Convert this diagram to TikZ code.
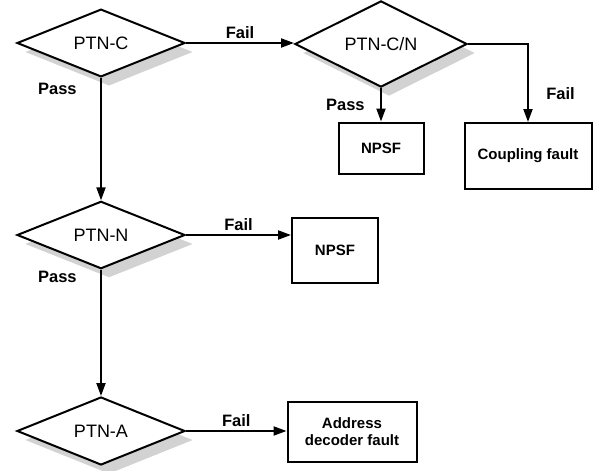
\documentclass[tikz,border=0pt]{standalone}
\usepackage{fontspec}
\setmainfont{Liberation Sans}
\usetikzlibrary{positioning,arrows.meta,calc,shapes.geometric,shadows}

\begin{document}
\begin{tikzpicture}[x=1pt, y=-1pt, >={Triangle[length=13pt,width=9pt]},
  every node/.style={align=center},
  ptn/.style={draw, diamond, line width=2pt, fill=white, inner sep=0pt,
    minimum width=168pt, minimum height=65pt, font=\fontsize{18}{20}\selectfont,
    drop shadow={shadow xshift=8pt, shadow yshift=-9pt, fill=gray!35, opacity=1}},
  fault/.style={draw, rectangle, line width=2pt, inner sep=2pt,
    font=\bfseries\fontsize{15}{17}\selectfont},
  flow/.style={->, line width=2pt},
  lbl/.style={font=\bfseries\fontsize{16.5}{18}\selectfont}]
  \useasboundingbox (0,0) rectangle (598,471);

  % tests
  \node[ptn] (c) at (101,43) {PTN-C};
  \node[ptn, minimum width=172pt, minimum height=66pt] (cn) at (381,44) {PTN-C/N};
  \node[ptn] (n) at (101,235) {PTN-N};
  \node[ptn, minimum height=68pt] (a) at (101,431) {PTN-A};

  % faults
  \node[fault, minimum width=85pt, minimum height=51pt] (npsf1) at (381,148) {NPSF};
  \node[fault, minimum width=127pt, minimum height=66pt] (coup) at (528,156) {Coupling fault};
  \node[fault, minimum width=86pt, minimum height=65pt] (npsf2) at (335,250) {NPSF};
  \node[fault, minimum width=129pt, minimum height=60pt] (adf) at (352,432) {Address\\decoder fault};

  \draw[flow] (c.east) -- node[lbl, above]{Fail} (c.east -| cn.west);
  \draw[flow] (c.south) -- node[lbl, pos=0.09, left=20pt]{Pass} (n.north);
  \draw[flow] (cn.south) -- node[lbl, pos=0.5, left=12pt]{Pass} (npsf1);
  \draw[flow] (cn.east) -| node[lbl, pos=0.82, right=14pt]{Fail} (coup);
  \draw[flow] (n.east) -- node[lbl, above]{Fail} (n.east -| npsf2.west);
  \draw[flow] (n.south) -- node[lbl, pos=0.06, left=20pt]{Pass} (a.north);
  \draw[flow] (a.east) -- node[lbl, above]{Fail} (a.east -| adf.west);
\end{tikzpicture}
\end{document}
